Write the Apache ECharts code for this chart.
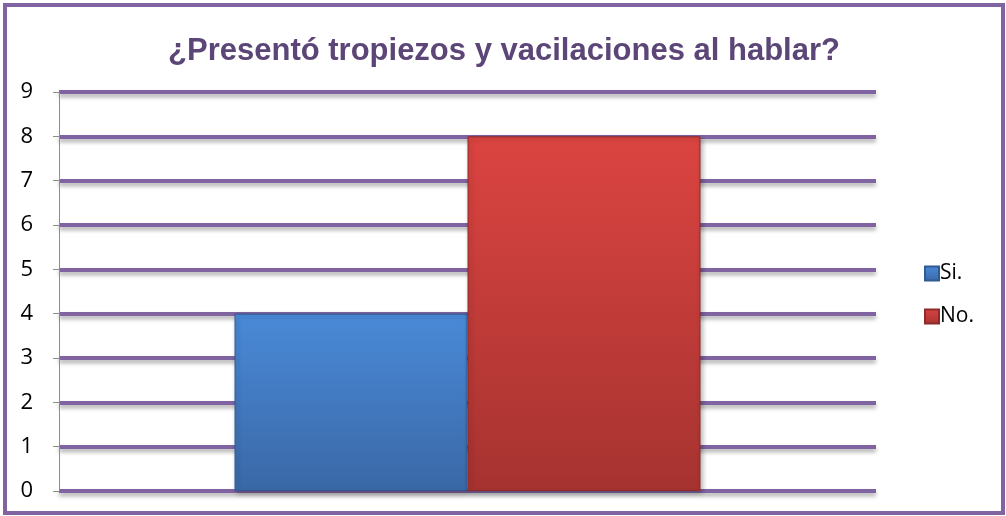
<!DOCTYPE html>
<html>
<head>
<meta charset="utf-8">
<script src="https://cdn.jsdelivr.net/npm/echarts@6/dist/echarts.min.js"></script>
<style>
    html, body { margin: 0; padding: 0; background: #fff; }
    #main { position: absolute; left: 3px; top: 3px; width: 994px; height: 504px; border: 4px solid #8064A2; box-sizing: content-box; }
</style>
</head>
<body>
<div id="main"></div>
<script>
// datos del gráfico
const categories = ['¿Presentó tropiezos y vacilaciones al hablar?'];
const seriesNames = ['Si.', 'No.'];
const siValues = [4];
const noValues = [8];
const yTicks = { min: 0, max: 9, interval: 1 };

let chart = echarts.init(document.getElementById('main'));

function grad(top, bottom) {
    return new echarts.graphic.LinearGradient(0, 0, 0, 1, [
        { offset: 0, color: top },
        { offset: 1, color: bottom }
    ]);
}

const option = {
    animation: false,
    title: {
        text: categories[0],
        left: 'center',
        top: 24,
        textStyle: { color: '#5B4677', fontSize: 31, fontWeight: 'bold', fontFamily: 'Liberation Sans, Arial' }
    },
    legend: {
        orient: 'vertical',
        left: 912,
        top: 251,
        itemWidth: 14,
        itemHeight: 14,
        itemGap: 22,
        icon: 'rect',
        textStyle: { fontSize: 21, color: '#000', fontFamily: 'Open Sans, Liberation Sans', padding: [0, 0, 0, -4] },
        data: seriesNames
    },
    grid: {
        left: 52,
        right: 125,
        top: 85,
        bottom: 20
    },
    xAxis: {
        type: 'category',
        data: categories,
        axisLine: { show: false },
        axisTick: { show: false },
        axisLabel: { show: false }
    },
    yAxis: {
        type: 'value',
        min: yTicks.min,
        max: yTicks.max,
        interval: yTicks.interval,
        axisLine: { show: true, lineStyle: { color: '#8C8C8C', width: 1 } },
        axisTick: { show: true, length: 6, lineStyle: { color: '#8C8C8C' } },
        axisLabel: { fontSize: 22, color: '#000', margin: 26, fontFamily: 'Open Sans, Liberation Sans' },
        splitLine: {
            show: true,
            lineStyle: {
                color: '#8064A2', width: 4,
                shadowColor: 'rgba(0,0,0,0.35)', shadowBlur: 4, shadowOffsetY: 3
            }
        }
    },
    series: [
        {
            name: seriesNames[0],
            type: 'bar',
            data: siValues,
            barWidth: 233,
            barGap: '0%',
            itemStyle: {
                color: grad('#4A8AD8', '#3A68A6'),
                borderColor: '#2F5A92',
                borderWidth: 1,
                shadowColor: 'rgba(0,0,0,0.3)', shadowBlur: 5, shadowOffsetX: 2, shadowOffsetY: 2
            }
        },
        {
            name: seriesNames[1],
            type: 'bar',
            data: noValues,
            barWidth: 233,
            itemStyle: {
                color: grad('#DB4441', '#A63330'),
                borderColor: '#8E2A28',
                borderWidth: 1,
                shadowColor: 'rgba(0,0,0,0.3)', shadowBlur: 5, shadowOffsetX: 2, shadowOffsetY: 2
            }
        }
    ]
};
chart.setOption(option);
</script>
</body>
</html>
